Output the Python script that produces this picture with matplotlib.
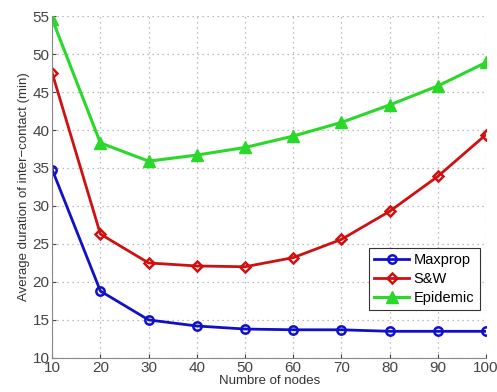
import matplotlib
matplotlib.use('Agg')
import matplotlib.pyplot as plt

plt.rcParams['font.family'] = ['Liberation Sans', 'DejaVu Sans']

nodes = [10, 20, 30, 40, 50, 60, 70, 80, 90, 100]
maxprop = [34.8, 18.8, 15.0, 14.2, 13.8, 13.7, 13.7, 13.5, 13.5, 13.5]
sw = [47.5, 26.3, 22.5, 22.1, 22.0, 23.2, 25.6, 29.3, 33.9, 39.4]
epidemic = [54.6, 38.3, 35.9, 36.7, 37.7, 39.2, 41.0, 43.3, 45.8, 48.9]

fig = plt.figure(figsize=(4.97, 3.92), dpi=100)
ax = fig.add_axes([0.105, 0.087, 0.873, 0.872])

ax.plot(nodes, maxprop, color='#1010c8', lw=2, marker='o', ms=6,
        mfc='none', mew=1.8, label='Maxprop')
ax.plot(nodes, sw, color='#d01010', lw=2, marker='D', ms=5,
        mfc='none', mew=1.8, label='S&W')
ax.plot(nodes, epidemic, color='#2ad82a', lw=2.2, marker='^', ms=8,
        mfc='#2ad82a', mew=1, label='Epidemic')

ax.set_xlim(10, 100)
ax.set_ylim(10, 55)
ax.set_xticks(nodes)
ax.set_yticks(range(10, 56, 5))
ax.grid(True, linestyle=(0, (1, 3)), color='#a8a8a8', lw=0.9)
ax.tick_params(labelsize=11, direction='in', length=3, pad=2, colors='#444444')
for s in ['top', 'right']:
    ax.spines[s].set_visible(False)
for s in ['left', 'bottom']:
    ax.spines[s].set_color('#888888')

ax.set_xlabel('Numbre of nodes', fontsize=9.5, color='#333333', labelpad=0)
ax.set_ylabel('Average duration of inter\u2212contact (min)', fontsize=9.5,
              color='#333333', labelpad=2)

leg = ax.legend(loc='lower right', bbox_to_anchor=(0.985, 0.14), fontsize=10.5,
                fancybox=False, framealpha=1, edgecolor='#333333',
                handlelength=2.4, handletextpad=0.3, borderpad=0.35,
                labelspacing=0.35, borderaxespad=0)
leg.get_frame().set_linewidth(0.8)

fig.savefig('out.png', dpi=100)
